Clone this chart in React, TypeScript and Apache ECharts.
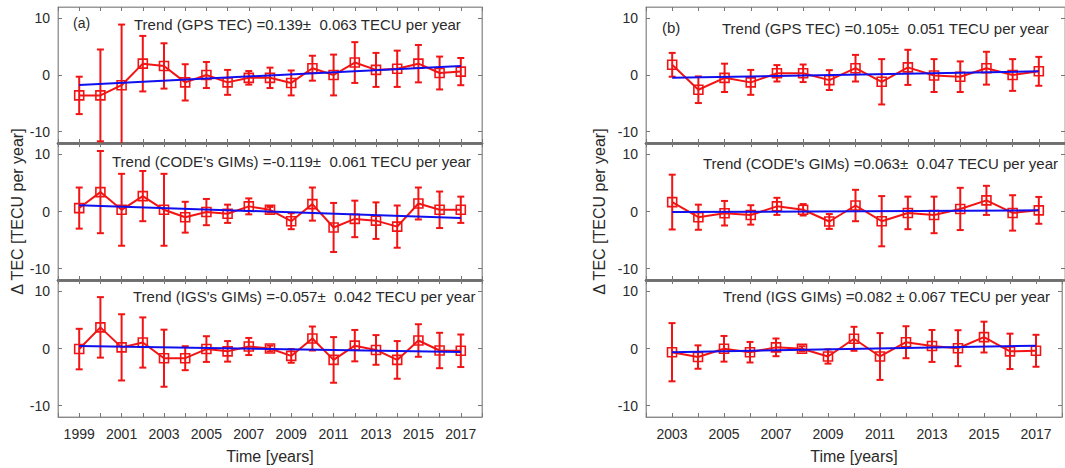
import React, { useEffect, useRef } from "react";
import * as echarts from "echarts";

// ---------- data ----------
const yearsA = [1999, 2000, 2001, 2002, 2003, 2004, 2005, 2006, 2007, 2008, 2009, 2010, 2011, 2012, 2013, 2014, 2015, 2016, 2017];
const yearsB = [2003, 2004, 2005, 2006, 2007, 2008, 2009, 2010, 2011, 2012, 2013, 2014, 2015, 2016, 2017];

const gpsA = [-3.6, -3.6, -1.8, 2.0, 1.6, -1.3, 0.0, -1.3, -0.5, -0.5, -1.4, 1.2, 0.0, 2.2, 0.9, 1.1, 2.0, 0.35, 0.6];
const gpsAErr = [3.3, 8.1, 10.7, 4.9, 4.0, 3.2, 2.3, 2.2, 1.2, 1.8, 2.2, 2.2, 3.6, 3.6, 3.0, 3.2, 3.3, 2.9, 2.4];
const gpsATrend = [-1.75, 1.6];

const codeA = [0.6, 3.4, 0.3, 2.7, 0.3, -1.0, -0.1, -0.4, 0.9, 0.3, -1.7, 1.3, -2.8, -1.3, -1.6, -2.65, 1.4, 0.3, 0.3];
const codeAErr = [3.6, 7.2, 6.3, 4.4, 6.3, 2.7, 2.3, 1.6, 1.4, 0.5, 1.4, 2.9, 4.3, 3.2, 3.2, 3.7, 2.8, 3.2, 2.3];
const codeATrend = [1.1, -1.15];

const igsA = [-0.1, 3.7, 0.2, 1.05, -1.7, -1.7, -0.1, -0.5, 0.35, 0.0, -1.3, 1.75, -2.0, 0.5, -0.25, -2.0, 1.4, -0.35, -0.4];
const igsAErr = [3.55, 5.3, 5.8, 4.4, 5.0, 2.1, 2.25, 1.8, 1.5, 0.5, 1.2, 2.1, 4.0, 2.75, 2.6, 3.3, 2.85, 3.1, 2.85];
const igsATrend = [0.45, -0.6];

const gpsB = [1.8, -2.6, -0.5, -1.3, 0.3, 0.3, -0.9, 1.2, -1.2, 1.35, -0.1, -0.3, 1.2, 0.0, 0.65];
const gpsBErr = [2.1, 2.35, 2.5, 2.2, 1.45, 1.55, 1.75, 2.35, 4.0, 3.1, 2.9, 2.7, 2.9, 2.8, 2.55];
const gpsBTrend = [-0.5, 0.65];

const codeB = [1.65, -1.0, -0.3, -0.6, 0.9, 0.3, -1.75, 1.05, -1.7, -0.25, -0.6, 0.45, 1.95, -0.25, 0.2];
const codeBErr = [4.8, 2.2, 2.15, 1.7, 1.5, 1.0, 1.3, 2.75, 4.4, 2.85, 3.2, 3.7, 2.55, 3.1, 2.35];
const codeBTrend = [-0.1, 0.2];

const igsB = [-0.65, -1.5, -0.05, -0.65, 0.2, -0.05, -1.4, 1.7, -1.4, 1.1, 0.45, 0.05, 2.0, -0.5, -0.4];
const igsBErr = [5.1, 2.05, 2.25, 1.8, 1.55, 0.45, 1.25, 2.1, 4.1, 2.8, 2.8, 3.15, 2.7, 3.1, 2.8];
const igsBTrend = [-0.65, 0.5];

const yTicks = [-10, 0, 10];

const trendTexts = [
  "Trend (GPS TEC) =0.139\u00b1  0.063 TECU per year",
  "Trend (CODE's GIMs) =-0.119\u00b1  0.061 TECU per year",
  "Trend (IGS's GIMs) =-0.057\u00b1  0.042 TECU per year",
  "Trend (GPS TEC) =0.105\u00b1  0.051 TECU per year",
  "Trend (CODE's GIMs) =0.063\u00b1  0.047 TECU per year",
  "Trend (IGS GIMs) =0.082 \u00b1 0.067 TECU per year",
];

// ---------- layout / style ----------
const FONT = "'Liberation Sans', Arial, Helvetica, sans-serif";
const RED = "#f21414";
const BLUE = "#1010ee";
const TXT = "#2a2a2a";

const panels = [
  { years: yearsA, vals: gpsA, errs: gpsAErr, trend: gpsATrend, xmin: 1998, xmax: 2018, left: 58, width: 424, top: 7, height: 136 },
  { years: yearsA, vals: codeA, errs: codeAErr, trend: codeATrend, xmin: 1998, xmax: 2018, left: 58, width: 424, top: 143, height: 137 },
  { years: yearsA, vals: igsA, errs: igsAErr, trend: igsATrend, xmin: 1998, xmax: 2018, left: 58, width: 424, top: 280, height: 137 },
  { years: yearsB, vals: gpsB, errs: gpsBErr, trend: gpsBTrend, xmin: 2002, xmax: 2018, left: 646, width: 426, top: 7, height: 136 },
  { years: yearsB, vals: codeB, errs: codeBErr, trend: codeBTrend, xmin: 2002, xmax: 2018, left: 646, width: 426, top: 143, height: 137 },
  { years: yearsB, vals: igsB, errs: igsBErr, trend: igsBTrend, xmin: 2002, xmax: 2018, left: 646, width: 426, top: 280, height: 137 },
];

const textPos = [
  { x: 134, y: 24 },
  { x: 112, y: 161 },
  { x: 133, y: 296 },
  { x: 722, y: 28 },
  { x: 703, y: 163 },
  { x: 723, y: 296 },
];

function buildOption() {
  const grid: any[] = [];
  const xAxis: any[] = [];
  const yAxis: any[] = [];
  const series: any[] = [];

  panels.forEach((p, i) => {
    const row = i % 3;
    grid.push({
      left: p.left, top: p.top, width: p.width, height: p.height,
      show: true, borderColor: "#9a9a9a", borderWidth: 1, backgroundColor: "#fff",
    });
    const isBottom = row === 2;
    xAxis.push({
      type: "value", gridIndex: i, min: p.xmin, max: p.xmax, interval: 1, position: "bottom",
      axisLine: { show: true, onZero: false, lineStyle: { color: isBottom ? "#8a8a8a" : "#6e6e6e", width: isBottom ? 1.2 : 2.5 } },
      axisTick: { show: true, inside: true, length: 4, lineStyle: { color: "#777" } },
      axisLabel: {
        show: isBottom, margin: 10, fontSize: 14, color: TXT, fontFamily: FONT,
        formatter: (v: number) => (v % 2 === 1 && v > p.xmin && v < p.xmax ? String(v) : ""),
      },
      splitLine: { show: false },
      name: isBottom ? "Time [years]" : "",
      nameLocation: "middle", nameGap: 31,
      nameTextStyle: { fontSize: 16, color: TXT, fontFamily: FONT },
    });
    xAxis.push({
      type: "value", gridIndex: i, min: p.xmin, max: p.xmax, interval: 1, position: "top",
      axisLine: { show: true, onZero: false, lineStyle: { color: row === 0 ? "#9a9a9a" : "#6e6e6e", width: row === 0 ? 1 : 2.5 } },
      axisTick: { show: true, inside: true, length: 4, lineStyle: { color: "#777" } },
      axisLabel: { show: false },
      splitLine: { show: false },
    });
    yAxis.push({
      type: "value", gridIndex: i, min: -12, max: 12, position: "left",
      axisLine: { show: true, onZero: false, lineStyle: { color: "#9a9a9a", width: 1 } },
      axisTick: { show: true, inside: true, length: 4, customValues: yTicks, lineStyle: { color: "#777" } },
      axisLabel: { show: true, customValues: yTicks, margin: 8, fontSize: 14, color: TXT, fontFamily: FONT },
      splitLine: { show: false },
      name: row === 1 ? "\u0394 TEC [TECU per year]" : "",
      nameLocation: "middle", nameGap: i < 3 ? 31 : 39,
      nameTextStyle: { fontSize: 16, color: TXT, fontFamily: FONT },
    });
    yAxis.push({
      type: "value", gridIndex: i, min: -12, max: 12, position: "right",
      axisLine: { show: true, onZero: false, lineStyle: { color: "#9a9a9a", width: 1 } },
      axisTick: { show: true, inside: true, length: 4, customValues: yTicks, lineStyle: { color: "#777" } },
      axisLabel: { show: false, customValues: yTicks },
      splitLine: { show: false },
    });

    const xb = i * 2;
    const yl = i * 2;

    series.push({
      type: "custom",
      xAxisIndex: xb, yAxisIndex: yl,
      data: p.years.map((yr, k) => [yr, p.vals[k] - p.errs[k], p.vals[k] + p.errs[k]]),
      encode: { x: 0, y: [1, 2] },
      z: 2,
      renderItem: (params: any, api: any) => {
        const x = api.value(0);
        const lo = api.value(1);
        const hi = api.value(2);
        const pHi = api.coord([x, hi]);
        const pLo = api.coord([x, lo]);
        const cs = params.coordSys;
        const top = cs.y;
        const bot = cs.y + cs.height;
        const y1 = Math.max(top, pHi[1]);
        const y2 = Math.min(bot, pLo[1]);
        const hw = 3.5;
        const st = { stroke: RED, lineWidth: 2 };
        const children: any[] = [
          { type: "line", shape: { x1: pHi[0], y1, x2: pHi[0], y2 }, style: st },
        ];
        if (pHi[1] >= top) children.push({ type: "line", shape: { x1: pHi[0] - hw, y1: pHi[1], x2: pHi[0] + hw, y2: pHi[1] }, style: st });
        if (pLo[1] <= bot) children.push({ type: "line", shape: { x1: pLo[0] - hw, y1: pLo[1], x2: pLo[0] + hw, y2: pLo[1] }, style: st });
        return { type: "group", children };
      },
    });

    series.push({
      type: "line",
      xAxisIndex: xb, yAxisIndex: yl,
      data: p.years.map((yr, k) => [yr, p.vals[k]]),
      symbol: "rect", symbolSize: 9,
      lineStyle: { color: RED, width: 2 },
      itemStyle: { color: "rgba(0,0,0,0)", borderColor: RED, borderWidth: 1.6 },
      z: 3,
    });

    series.push({
      type: "line",
      xAxisIndex: xb, yAxisIndex: yl,
      data: [[p.years[0], p.trend[0]], [p.years[p.years.length - 1], p.trend[1]]],
      symbol: "none",
      lineStyle: { color: BLUE, width: 2 },
      z: 4,
    });
  });

  const graphic: any[] = trendTexts.map((t, i) => ({
    type: "text", x: textPos[i].x, y: textPos[i].y, z: 10,
    style: { text: t, font: `15px ${FONT}`, fill: TXT, verticalAlign: "middle" },
  }));
  graphic.push({ type: "text", x: 73, y: 23, z: 10, style: { text: "(a)", font: `14px ${FONT}`, fill: TXT, verticalAlign: "middle" } });
  graphic.push({ type: "text", x: 662, y: 27, z: 10, style: { text: "(b)", font: `15px ${FONT}`, fill: TXT, verticalAlign: "middle" } });

  return { animation: false, backgroundColor: "#fff", grid, xAxis, yAxis, series, graphic };
}

export default function App() {
  const ref = useRef<HTMLDivElement>(null);
  useEffect(() => {
    document.body.style.margin = "0";
    if (!ref.current) return;
    const chart = echarts.init(ref.current, undefined, { renderer: "svg" });
    chart.setOption(buildOption() as any);
    return () => chart.dispose();
  }, []);
  return <div ref={ref} style={{ width: 1065, height: 468, overflow: "hidden", background: "#fff" }} />;
}
